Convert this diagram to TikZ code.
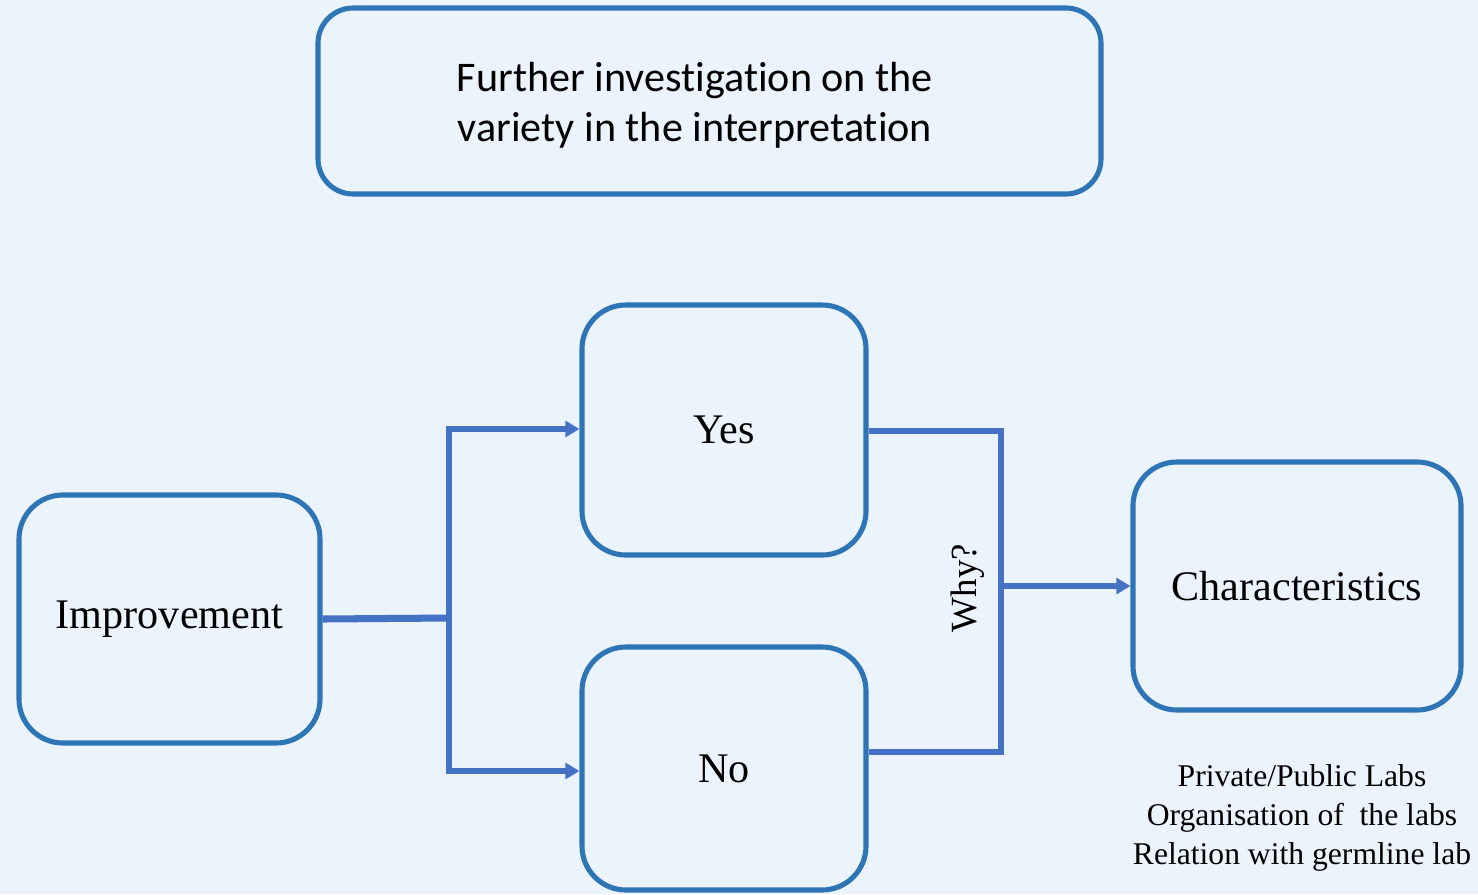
\documentclass[tikz,border=0pt]{standalone}
\usepackage{fontspec}
\setmainfont{Liberation Serif}
\newfontfamily\calfont[Ligatures=NoCommon]{Carlito}
\usetikzlibrary{calc,arrows.meta}
\definecolor{bgc}{HTML}{EBF3FC}
\definecolor{boxc}{HTML}{2E75B6}
\definecolor{linec}{HTML}{4472C4}
\tikzset{
  card/.style={draw=boxc, line width=2.9pt, rounded corners=25pt, fill=bgc, inner sep=0pt, align=center, font=\fontsize{24}{28}\selectfont},
  conn/.style={draw=linec, line width=3.2pt},
  arr/.style={conn, -{Triangle[length=8pt,width=9pt]}}
}
\begin{document}
\begin{tikzpicture}[x=0.02cm,y=-0.02cm]
\fill[bgc] (0,0) rectangle (1478,894);
\useasboundingbox (0,0) rectangle (1478,894);
\node[card, minimum width=783*0.02cm, minimum height=186*0.02cm, rounded corners=20pt] (top) at (709.5,101) {};
\node[align=center, inner sep=0pt, font=\calfont\fontsize{24}{28.5}\selectfont] (toptext) at (695,105) {Further investigation on the\\variety in the interpretation};
\node[card, minimum width=284*0.02cm, minimum height=250*0.02cm] (yes) at (724,430) {\raisebox{-3pt}{Yes}};
\node[card, minimum width=284*0.02cm, minimum height=243*0.02cm] (no) at (724,768.5) {\raisebox{-3pt}{No}};
\node[card, minimum width=301*0.02cm, minimum height=248*0.02cm] (impr) at (169.5,619) {\raisebox{-4pt}{Improvement}};
\node[card, minimum width=328*0.02cm, minimum height=248*0.02cm] (char) at (1297,586) {\raisebox{-1pt}{Characteristics}};
\node[align=center, font=\fontsize{18}{22.3}\selectfont, inner sep=0pt] (list) at (1302,818) {Private/Public Labs\\Organisation of~ the labs\\Relation with germline lab};
\coordinate (j1) at (449,618);
\coordinate (j2) at (1001,586);
\draw[conn, line width=4pt] (impr.east) -- (j1);
\draw[arr] (j1) |- ($(yes.west)+(0,-1)$);
\draw[arr] (j1) |- ($(no.west)+(0,2.5)$);
\draw[conn] ($(yes.east)+(0,1)$) -| (j2) |- ($(no.east)+(0,-16.5)$);
\draw[arr] (j2) -- (char.west);
\node[rotate=90, font=\fontsize{21}{25}\selectfont, inner sep=0pt] (why) at (968,588) {Why?};
\end{tikzpicture}
\end{document}
